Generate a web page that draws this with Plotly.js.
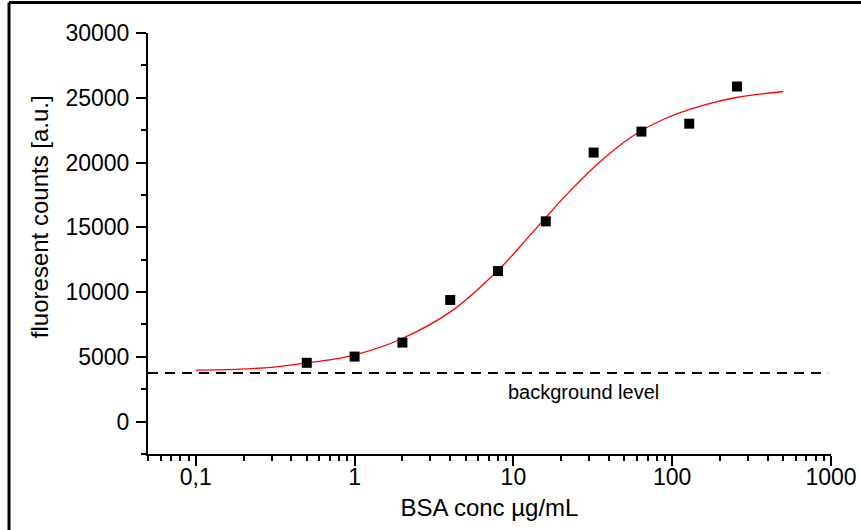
<!DOCTYPE html>
<html>
<head>
<meta charset="utf-8">
<script src="https://cdn.plot.ly/plotly-3.0.1.min.js"></script>
<style>
  html, body { margin: 0; padding: 0; background: #fff; }
  #chart { width: 861px; height: 530px; }
</style>
</head>
<body>
<div id="chart"></div>
<script>
// Measured BSA concentrations (µg/mL) and fluorescence counts
const concentrations = [0.5, 1, 2, 4, 8, 16, 32, 64, 128, 256];
const counts = [4540, 5020, 6100, 9390, 11620, 15460, 20770, 22390, 23000, 25870];

// Fitted dose-response curve, sampled along its path
const fitConc = [0.1, 0.19, 0.31, 0.49, 0.74, 1.06, 1.95, 4.03, 8.34, 12.9, 15.8, 20.9, 34, 55, 89, 152, 253, 500];
const fitCounts = [3975, 4050, 4210, 4515, 4820, 5230, 6360, 8490, 11900, 14470, 15680, 17330, 19900, 21950, 23360, 24380, 25020, 25485];

// Background level of the assay
const backgroundLevel = 3750;
const backgroundLabel = 'background level';

// Axis ticks and titles
const xTickVals = [0.1, 1, 10, 100, 1000];
const xTickText = ['0,1', '1', '10', '100', '1000'];
const yTickVals = [0, 5000, 10000, 15000, 20000, 25000, 30000];
const yTickText = ['0', '5000', '10000', '15000', '20000', '25000', '30000'];
const xTitle = 'BSA conc µg/mL';
const yTitle = 'fluoresent counts [a.u.]';

const font = 'Liberation Sans, Arial, Helvetica, sans-serif';

// minor log ticks at 2..9 of each decade
const xMinor = [];
[0.01, 0.1, 1, 10, 100].forEach(d => {
  for (let k = 2; k <= 9; k++) xMinor.push(d * k);
});

const traces = [
  {
    x: fitConc, y: fitCounts,
    type: 'scatter', mode: 'lines',
    line: { color: '#ff0000', width: 1.3, shape: 'spline', smoothing: 1 },
    hoverinfo: 'skip'
  },
  {
    x: concentrations, y: counts,
    type: 'scatter', mode: 'markers',
    marker: { symbol: 'square', size: 10, color: '#000000' }
  }
];

const layout = {
  width: 861, height: 530,
  margin: { l: 148, r: 30, t: 33, b: 76, pad: 0 },
  paper_bgcolor: '#ffffff', plot_bgcolor: '#ffffff',
  showlegend: false,
  font: { family: font, color: '#000', size: 23 },
  xaxis: {
    type: 'log',
    range: [Math.log10(0.05), 3],
    tickmode: 'array', tickvals: xTickVals, ticktext: xTickText,
    ticks: 'outside', ticklen: 10, tickwidth: 2, tickcolor: '#000',
    ticklabelstandoff: -9,
    minor: { tickmode: 'array', tickvals: xMinor, ticks: 'outside', ticklen: 5, tickwidth: 2, tickcolor: '#000', showgrid: false },
    showline: true, linecolor: '#000', linewidth: 2,
    showgrid: false, zeroline: false,
    tickfont: { family: font, size: 23, color: '#000' },
    title: { text: xTitle, font: { family: font, size: 24, color: '#000' }, standoff: 11 }
  },
  yaxis: {
    range: [-2500, 30000],
    tickmode: 'array', tickvals: yTickVals, ticktext: yTickText,
    ticks: 'outside', ticklen: 10, tickwidth: 2, tickcolor: '#000',
    ticklabelstandoff: 2,
    minor: { dtick: 2500, ticks: 'outside', ticklen: 5, tickwidth: 2, tickcolor: '#000', showgrid: false },
    showline: true, linecolor: '#000', linewidth: 2,
    showgrid: false, zeroline: false,
    tickfont: { family: font, size: 23, color: '#000' }
  },
  shapes: [
    // dashed background line across the plot
    { type: 'line', xref: 'paper', yref: 'y', x0: 0, x1: 0.996, y0: backgroundLevel, y1: backgroundLevel,
      line: { color: '#000', width: 2, dash: '10px,7px' } },
    // outer frame (left and top edges)
    { type: 'line', xref: 'paper', yref: 'paper', x0: -0.2035, x1: -0.2035, y0: 1.0724, y1: -0.19,
      line: { color: '#000', width: 3 } },
    { type: 'line', xref: 'paper', yref: 'paper', x0: -0.2035, x1: 1.05, y0: 1.0724, y1: 1.0724,
      line: { color: '#000', width: 3 } }
  ],
  annotations: [
    { xref: 'paper', yref: 'y', x: 0.637, y: 2300, text: backgroundLabel, showarrow: false,
      font: { family: font, size: 20, color: '#000' } },
    // vertical axis title, set slightly above the plot centre
    { xref: 'paper', yref: 'paper', x: -0.1596, y: 0.565, text: yTitle, textangle: -90,
      xanchor: 'center', yanchor: 'middle', showarrow: false,
      font: { family: font, size: 24, color: '#000' } }
  ]
};

Plotly.newPlot('chart', traces, layout, { staticPlot: true, displayModeBar: false });
</script>
</body>
</html>
